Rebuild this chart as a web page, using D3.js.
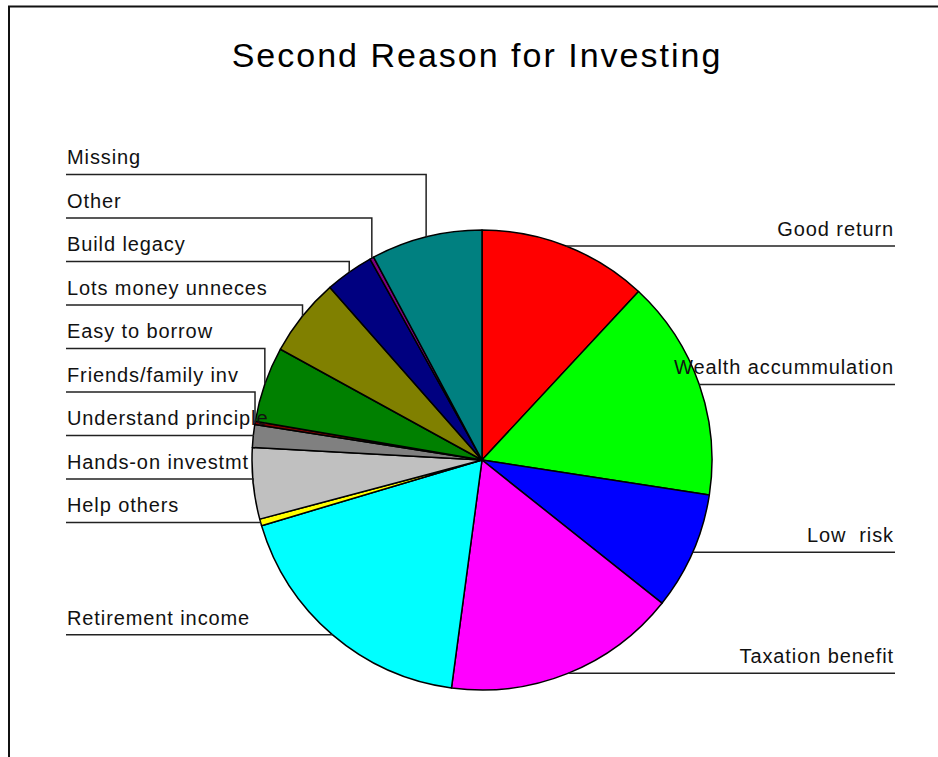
<!DOCTYPE html>
<html>
<head>
<meta charset="utf-8">
<script src="https://cdn.jsdelivr.net/npm/d3@7"></script>
<style>
  html, body { margin: 0; padding: 0; background: #fff; }
  svg { display: block; font-family: 'Liberation Sans', Arial, sans-serif; }
</style>
</head>
<body>
<svg width="938" height="757"></svg>
<script>
// Categories in clockwise order starting at 12 o'clock
const categories = [
  'Good return', 'Wealth accummulation', 'Low  risk', 'Taxation benefit',
  'Retirement income', 'Help others', 'Hands-on investmt', 'Understand principle',
  'Friends/family inv', 'Easy to borrow', 'Lots money unneces', 'Build legacy',
  'Other', 'Missing'
];
// Share of responses (%)
const values = [11.9, 15.5, 8.25, 16.4, 18.25, 0.47, 5.0, 1.6, 0.22, 5.3, 5.5, 3.4, 0.28, 7.8];
const colors = [
  '#ff0000', '#00ff00', '#0000ff', '#ff00ff', '#00ffff', '#ffff00', '#c0c0c0',
  '#808080', '#800000', '#008000', '#808000', '#000080', '#800080', '#008080'
];
const title = 'Second Reason for Investing';

function drawPie() {
  const svg = d3.select('svg');
  const cx = 482;
  const cy = 460;
  const r = 230;
  const gap = 43.5;

  const data = categories.map((c, i) => ({ name: c, value: values[i], color: colors[i] }));

  // frame (left and top edges only)
  svg.append('path')
    .attr('d', 'M9,757 L9,6.5 L938,6.5')
    .attr('fill', 'none')
    .attr('stroke', '#111')
    .attr('stroke-width', 2);

  svg.append('text')
    .attr('x', 477)
    .attr('y', 67)
    .attr('text-anchor', 'middle')
    .style('font-size', '34px')
    .style('letter-spacing', '2px')
    .text(title);

  const pie = d3.pie().sort(null).value((d) => d.value);
  const arc = d3.arc().innerRadius(0).outerRadius(r);
  const arcs = pie(data);

  const g = svg.append('g').attr('transform', 'translate(' + cx + ',' + cy + ')');

  g.selectAll('.slice')
    .data(arcs)
    .enter()
    .append('path')
    .attr('class', 'slice')
    .attr('d', arc)
    .attr('fill', (d) => d.data.color)
    .attr('stroke', '#000')
    .attr('stroke-width', 1.5)
    .attr('stroke-linejoin', 'round');

  // anchor points on the rim at each slice's mid angle
  const labels = arcs.map((d) => {
    const mid = (d.startAngle + d.endAngle) / 2;
    const px = cx + r * Math.sin(mid);
    const py = cy - r * Math.cos(mid);
    return { name: d.data.name, mid: mid, px: px, py: py, ly: py, right: mid < Math.PI };
  });

  // left column: stack upward from the lowest label
  const left = labels.filter((d) => !d.right).sort((a, b) => a.py - b.py);
  for (let i = left.length - 2; i >= 0; i--) {
    left[i].ly = Math.min(left[i].ly, left[i + 1].ly - gap);
  }
  // right column: stack downward
  const right = labels.filter((d) => d.right).sort((a, b) => a.py - b.py);
  for (let i = 1; i < right.length; i++) {
    right[i].ly = Math.max(right[i].ly, right[i - 1].ly + gap);
  }

  const leftX = 66;
  const rightX = 895;

  svg.selectAll('.leader')
    .data(labels)
    .enter()
    .append('polyline')
    .attr('class', 'leader')
    .attr('points', (d) => {
      const ex = d.right ? rightX : leftX;
      return [[ex, d.ly], [d.px, d.ly], [d.px, d.py]].map((p) => p.join(',')).join(' ');
    })
    .attr('fill', 'none')
    .attr('stroke', '#222')
    .attr('stroke-width', 1.5);

  svg.selectAll('.label')
    .data(labels)
    .enter()
    .append('text')
    .attr('class', 'label')
    .attr('x', (d) => (d.right ? 894 : 67))
    .attr('y', (d) => d.ly - 10)
    .attr('text-anchor', (d) => (d.right ? 'end' : 'start'))
    .style('font-size', '20px')
    .style('letter-spacing', '0.9px')
    .style('white-space', 'pre')
    .attr('fill', '#111')
    .text((d) => d.name);
}

drawPie();
</script>
</body>
</html>
